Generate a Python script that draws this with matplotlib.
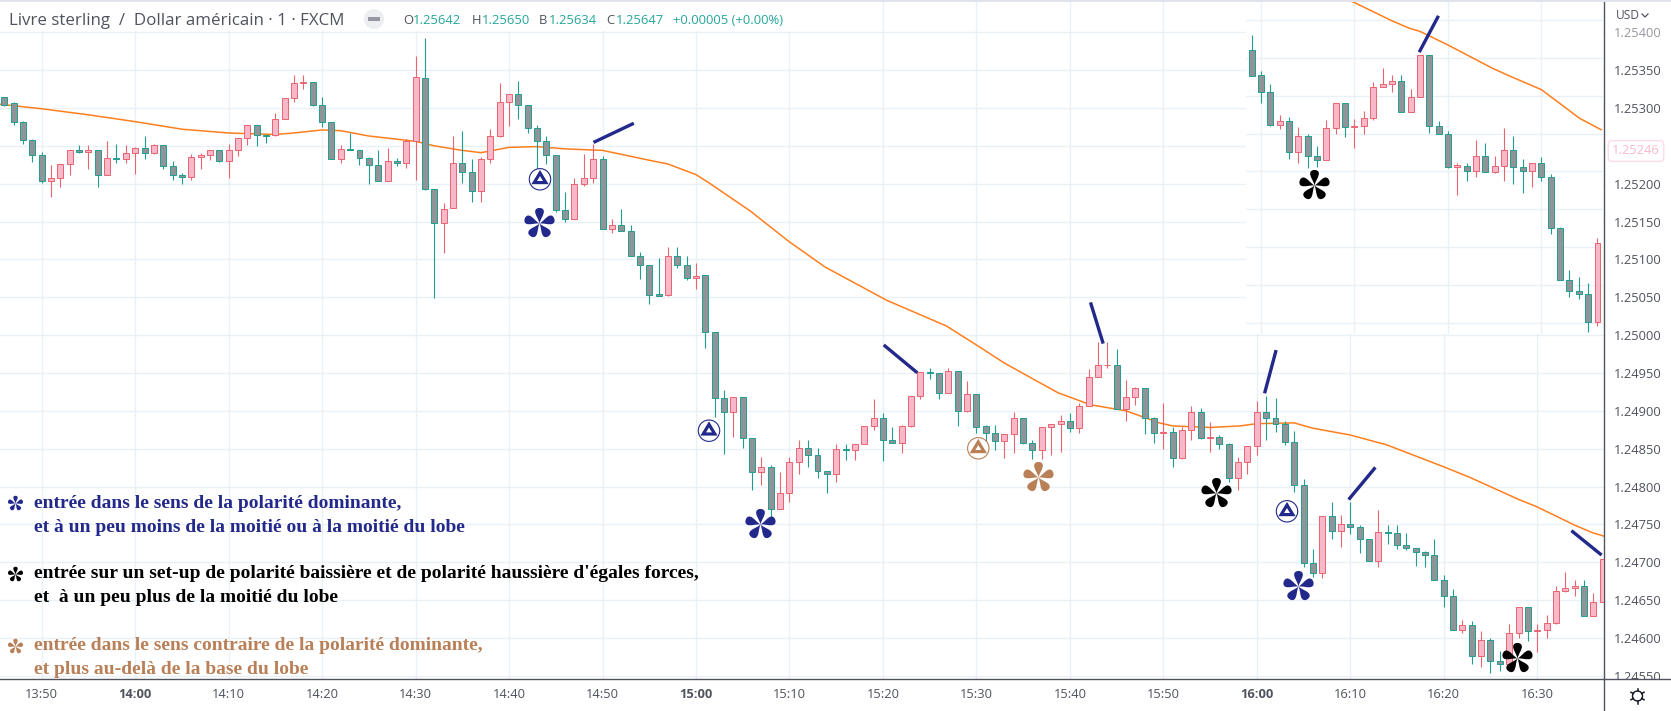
import matplotlib
matplotlib.use("Agg")
import matplotlib.pyplot as plt
import numpy as np
from matplotlib.patches import Circle, Polygon, Rectangle
from matplotlib.path import Path

W, H = 1671, 711

GRID = "#e9f0f6"
AXIS = "#50535e"
UP_FILL = "#f9b8ca"
UP_EDGE = "#e8646f"
DOWN_FILL = "#8f9498"
DOWN_EDGE = "#1f9e8f"
EMA_COLOR = "#ff7f1e"
NAVY = "#23298a"
BROWN = "#b97f57"
TEAL = "#26a69a"

# 1 minute candles, first one at 13:46
FIRST_MINUTE = -4  # minutes after 13:50
OPENS = [
    1.25315, 1.25307, 1.25281, 1.25258, 1.25238, 1.25203, 1.25208, 1.25226, 1.25244, 1.25242,
    1.25245, 1.25212, 1.25234, 1.25233, 1.25241, 1.25247, 1.25240, 1.25251, 1.25224, 1.25212,
    1.25209, 1.25235, 1.25238, 1.25244, 1.25230, 1.25244, 1.25260, 1.25277, 1.25264, 1.25264,
    1.25286, 1.25313, 1.25333, 1.25335, 1.25304, 1.25281, 1.25233, 1.25246, 1.25245, 1.25234,
    1.25225, 1.25204, 1.25230, 1.25227, 1.25256, 1.25340, 1.25193, 1.25148, 1.25168, 1.25227,
    1.25216, 1.25191, 1.25233, 1.25263, 1.25308, 1.25318, 1.25304, 1.25273, 1.25256, 1.25238,
    1.25165, 1.25154, 1.25200, 1.25208, 1.25232, 1.25140, 1.25145, 1.25137, 1.25105, 1.25092,
    1.25054, 1.25053, 1.25104, 1.25092, 1.25076, 1.25079, 1.25004, 1.24917, 1.24899, 1.24918,
    1.24864, 1.24819, 1.24826, 1.24770, 1.24791, 1.24832, 1.24851, 1.24841, 1.24821, 1.24817,
    1.24850, 1.24848, 1.24856, 1.24880, 1.24890, 1.24862, 1.24857, 1.24880, 1.24919, 1.24951,
    1.24950, 1.24924, 1.24952, 1.24900, 1.24922, 1.24880, 1.24871, 1.24860, 1.24870, 1.24891,
    1.24857, 1.24848, 1.24878, 1.24882, 1.24887, 1.24877, 1.24907, 1.24945, 1.24960, 1.24961,
    1.24903, 1.24918, 1.24930, 1.24891, 1.24871, 1.24872, 1.24837, 1.24874, 1.24899, 1.24864,
    1.24865, 1.24856, 1.24811, 1.24832, 1.24853, 1.24898, 1.24890, 1.24882, 1.24859, 1.24802,
    1.24699, 1.24686, 1.24761, 1.24741, 1.24751, 1.24746, 1.24730, 1.24702, 1.24740, 1.24738,
    1.24723, 1.24719, 1.24713, 1.24710, 1.24677, 1.24655, 1.24611, 1.24617, 1.24576, 1.24597,
    1.24570, 1.24565, 1.24607, 1.24641, 1.24609, 1.24610, 1.24620, 1.24662, 1.24666, 1.24669,
    1.24629, 1.24648, 1.24704, 1.24610, 1.24599, 1.24556, 1.24557, 1.24550, 1.24570, 1.24549,
    1.24557, 1.24578, 1.24556, 1.24550, 1.24561, 1.24543, 1.24475, 1.24407, 1.24392, 1.24388,
    1.24351,
]
HIGHS = [
    1.25315, 1.25308, 1.25283, 1.25259, 1.25242, 1.25225, 1.25226, 1.25245, 1.25251, 1.25251,
    1.25245, 1.25257, 1.25253, 1.25251, 1.25248, 1.25263, 1.25252, 1.25251, 1.25230, 1.25214,
    1.25239, 1.25240, 1.25244, 1.25244, 1.25253, 1.25261, 1.25277, 1.25277, 1.25264, 1.25293,
    1.25313, 1.25343, 1.25343, 1.25335, 1.25315, 1.25282, 1.25251, 1.25267, 1.25245, 1.25235,
    1.25244, 1.25247, 1.25234, 1.25259, 1.25369, 1.25392, 1.25193, 1.25175, 1.25263, 1.25269,
    1.25232, 1.25235, 1.25272, 1.25333, 1.25318, 1.25336, 1.25304, 1.25278, 1.25263, 1.25238,
    1.25189, 1.25208, 1.25239, 1.25252, 1.25236, 1.25153, 1.25166, 1.25146, 1.25110, 1.25092,
    1.25102, 1.25116, 1.25116, 1.25105, 1.25095, 1.25079, 1.25004, 1.24928, 1.24918, 1.24918,
    1.24864, 1.24839, 1.24828, 1.24819, 1.24839, 1.24861, 1.24861, 1.24851, 1.24821, 1.24856,
    1.24856, 1.24856, 1.24880, 1.24916, 1.24897, 1.24879, 1.24881, 1.24919, 1.24951, 1.24956,
    1.24950, 1.24957, 1.24952, 1.24939, 1.24922, 1.24881, 1.24881, 1.24870, 1.24898, 1.24891,
    1.24861, 1.24878, 1.24882, 1.24895, 1.24897, 1.24910, 1.24955, 1.24991, 1.24991, 1.24982,
    1.24941, 1.24932, 1.24930, 1.24892, 1.24910, 1.24878, 1.24878, 1.24907, 1.24904, 1.24885,
    1.24868, 1.24857, 1.24839, 1.24853, 1.24913, 1.24920, 1.24917, 1.24887, 1.24873, 1.24810,
    1.24718, 1.24761, 1.24780, 1.24762, 1.24780, 1.24749, 1.24730, 1.24769, 1.24749, 1.24749,
    1.24739, 1.24719, 1.24715, 1.24730, 1.24683, 1.24665, 1.24624, 1.24622, 1.24609, 1.24600,
    1.24583, 1.24618, 1.24641, 1.24641, 1.24619, 1.24630, 1.24668, 1.24687, 1.24677, 1.24677,
    1.24659, 1.24704, 1.24704, 1.24617, 1.24603, 1.24561, 1.24561, 1.24591, 1.24587, 1.24570,
    1.24607, 1.24597, 1.24567, 1.24561, 1.24569, 1.24546, 1.24477, 1.24420, 1.24411, 1.24402,
    1.24462,
]
LOWS = [
    1.25303, 1.25277, 1.25252, 1.25229, 1.25201, 1.25183, 1.25196, 1.25212, 1.25240, 1.25220,
    1.25196, 1.25212, 1.25227, 1.25228, 1.25213, 1.25232, 1.25239, 1.25219, 1.25205, 1.25200,
    1.25205, 1.25219, 1.25231, 1.25229, 1.25208, 1.25236, 1.25251, 1.25250, 1.25254, 1.25263,
    1.25285, 1.25308, 1.25325, 1.25302, 1.25275, 1.25232, 1.25227, 1.25244, 1.25225, 1.25199,
    1.25204, 1.25204, 1.25224, 1.25221, 1.25205, 1.25192, 1.25049, 1.25109, 1.25168, 1.25201,
    1.25176, 1.25176, 1.25227, 1.25262, 1.25276, 1.25285, 1.25267, 1.25214, 1.25226, 1.25162,
    1.25149, 1.25153, 1.25197, 1.25201, 1.25140, 1.25135, 1.25137, 1.25105, 1.25074, 1.25041,
    1.25052, 1.25052, 1.25089, 1.25073, 1.25061, 1.24983, 1.24892, 1.24843, 1.24865, 1.24851,
    1.24795, 1.24802, 1.24759, 1.24770, 1.24780, 1.24817, 1.24826, 1.24811, 1.24791, 1.24806,
    1.24835, 1.24835, 1.24856, 1.24874, 1.24834, 1.24857, 1.24844, 1.24879, 1.24916, 1.24942,
    1.24916, 1.24924, 1.24880, 1.24898, 1.24871, 1.24850, 1.24848, 1.24837, 1.24844, 1.24856,
    1.24836, 1.24836, 1.24842, 1.24846, 1.24872, 1.24871, 1.24906, 1.24945, 1.24957, 1.24902,
    1.24886, 1.24908, 1.24869, 1.24858, 1.24849, 1.24826, 1.24836, 1.24861, 1.24863, 1.24846,
    1.24849, 1.24806, 1.24795, 1.24817, 1.24841, 1.24861, 1.24872, 1.24855, 1.24793, 1.24693,
    1.24680, 1.24679, 1.24730, 1.24720, 1.24737, 1.24712, 1.24702, 1.24693, 1.24724, 1.24717,
    1.24716, 1.24695, 1.24694, 1.24676, 1.24641, 1.24610, 1.24606, 1.24566, 1.24561, 1.24554,
    1.24556, 1.24565, 1.24600, 1.24596, 1.24581, 1.24600, 1.24618, 1.24661, 1.24655, 1.24629,
    1.24629, 1.24648, 1.24601, 1.24599, 1.24555, 1.24519, 1.24537, 1.24542, 1.24549, 1.24548,
    1.24537, 1.24534, 1.24522, 1.24530, 1.24537, 1.24467, 1.24406, 1.24384, 1.24382, 1.24338,
    1.24346,
]
CLOSES = [
    1.25304, 1.25281, 1.25258, 1.25238, 1.25203, 1.25208, 1.25226, 1.25244, 1.25242, 1.25245,
    1.25212, 1.25234, 1.25233, 1.25241, 1.25247, 1.25240, 1.25251, 1.25224, 1.25212, 1.25209,
    1.25235, 1.25238, 1.25244, 1.25230, 1.25244, 1.25260, 1.25277, 1.25264, 1.25263, 1.25286,
    1.25313, 1.25333, 1.25335, 1.25304, 1.25281, 1.25233, 1.25246, 1.25244, 1.25234, 1.25225,
    1.25204, 1.25230, 1.25227, 1.25256, 1.25341, 1.25193, 1.25148, 1.25167, 1.25227, 1.25216,
    1.25191, 1.25233, 1.25263, 1.25308, 1.25318, 1.25304, 1.25273, 1.25256, 1.25238, 1.25165,
    1.25154, 1.25200, 1.25208, 1.25232, 1.25140, 1.25145, 1.25137, 1.25105, 1.25092, 1.25053,
    1.25052, 1.25104, 1.25092, 1.25076, 1.25078, 1.25004, 1.24917, 1.24899, 1.24918, 1.24864,
    1.24819, 1.24826, 1.24770, 1.24791, 1.24832, 1.24851, 1.24841, 1.24821, 1.24817, 1.24850,
    1.24848, 1.24856, 1.24880, 1.24890, 1.24862, 1.24857, 1.24880, 1.24919, 1.24951, 1.24950,
    1.24924, 1.24952, 1.24900, 1.24922, 1.24879, 1.24871, 1.24860, 1.24870, 1.24891, 1.24857,
    1.24848, 1.24878, 1.24882, 1.24887, 1.24877, 1.24907, 1.24945, 1.24960, 1.24961, 1.24903,
    1.24918, 1.24930, 1.24891, 1.24871, 1.24872, 1.24837, 1.24874, 1.24899, 1.24864, 1.24865,
    1.24856, 1.24811, 1.24832, 1.24853, 1.24898, 1.24890, 1.24882, 1.24859, 1.24802, 1.24699,
    1.24686, 1.24761, 1.24741, 1.24751, 1.24746, 1.24730, 1.24702, 1.24740, 1.24738, 1.24723,
    1.24719, 1.24713, 1.24710, 1.24676, 1.24655, 1.24611, 1.24617, 1.24576, 1.24597, 1.24570,
    1.24565, 1.24607, 1.24641, 1.24609, 1.24610, 1.24620, 1.24662, 1.24666, 1.24669, 1.24629,
    1.24648, 1.24704, 1.24610, 1.24599, 1.24556, 1.24558, 1.24550, 1.24570, 1.24549, 1.24557,
    1.24578, 1.24556, 1.24550, 1.24561, 1.24543, 1.24475, 1.24407, 1.24392, 1.24388, 1.24351,
    1.24455,
]

# moving average, read at the places where the line bends
EMA_MINUTES = [
    -4.5, 0, 5, 10, 15, 20, 25, 27, 30, 32, 35, 40, 42, 45, 47, 50, 53, 56, 60, 65, 67, 70,
    71.4, 75.8, 79.9, 83.8, 90.4, 96.8, 98.2, 100, 103, 108.7, 112.2, 116, 119.6, 121, 125,
    128.2, 130, 134, 136, 140, 143.9, 150, 152.8, 158, 160, 164, 165.9, 167, 170, 174.8,
    176.6, 180, 184.1, 186.4,
]
EMA_VALUES = [
    1.25305, 1.25299, 1.25291, 1.25282, 1.25272, 1.25267, 1.25265, 1.25267, 1.25271, 1.25270,
    1.25263, 1.25256, 1.25250, 1.25244, 1.25241, 1.25248, 1.25249, 1.25246, 1.25244, 1.25231,
    1.25226, 1.25212, 1.25201, 1.25164, 1.25124, 1.25090, 1.25046, 1.25012, 1.25001, 1.24987,
    1.24963, 1.24924, 1.24908, 1.24900, 1.24884, 1.24880, 1.24878, 1.24880, 1.24883, 1.24884,
    1.24877, 1.24868, 1.24855, 1.24826, 1.24812, 1.24783, 1.24773, 1.24749, 1.24739, 1.24735,
    1.24717, 1.24686, 1.24676, 1.24658, 1.24620, 1.24605,
]

PRICE_TICKS = [
    1.25400, 1.25350, 1.25300, 1.25250, 1.25200, 1.25150, 1.25100, 1.25050, 1.25000,
    1.24950, 1.24900, 1.24850, 1.24800, 1.24750, 1.24700, 1.24650, 1.24600, 1.24550,
]
PRICE_LABELS = [
    "1.25400", "1.25350", "1.25300", "", "1.25200", "1.25150", "1.25100", "1.25050", "1.25000",
    "1.24950", "1.24900", "1.24850", "1.24800", "1.24750", "1.24700", "1.24650", "1.24600", "1.24550",
]
TIME_TICKS = [0, 10, 20, 30, 40, 50, 60, 70, 80, 90, 100, 110, 120, 130, 140, 150, 160]
TIME_LABELS = [
    "13:50", "14:00", "14:10", "14:20", "14:30", "14:40", "14:50", "15:00", "15:10",
    "15:20", "15:30", "15:40", "15:50", "16:00", "16:10", "16:20", "16:30",
]
PANEL_TIME_TICKS = [150, 160, 170, 180]
PANEL_PRICE_TICKS = [
    1.24750, 1.24700, 1.24650, 1.24600, 1.24550, 1.24500, 1.24450, 1.24400, 1.24350,
]

LEGEND_BLOCKS = [
    (NAVY, 504, "entrée dans le sens de la polarité dominante,"),
    (NAVY, 527, "et à un peu moins de la moitié ou à la moitié du lobe"),
    ("black", 573, "entrée sur un set-up de polarité baissière et de polarité haussière d'égales forces,"),
    ("black", 597, "et  à un peu plus de la moitié du lobe"),
    (BROWN, 646, "entrée dans le sens contraire de la polarité dominante,"),
    (BROWN, 669, "et plus au-delà de la base du lobe"),
]


def px_axes(fig, left, top, right, bottom):
    return fig.add_axes([left / W, 1 - bottom / H, (right - left) / W, (bottom - top) / H])


def petal_marker():
    petal = np.array([
        (0, 0), (-0.06, 0.3), (-0.3, 0.55), (-0.27, 0.78),
        (-0.25, 1.04), (0.25, 1.04), (0.27, 0.78),
        (0.3, 0.55), (0.06, 0.3), (0, 0), (0, 0),
    ])
    codes = [Path.MOVETO] + [Path.CURVE4] * 9 + [Path.CLOSEPOLY]
    verts, all_codes = [], []
    for k in range(5):
        a = np.deg2rad(72 * k)
        rot = np.array([[np.cos(a), -np.sin(a)], [np.sin(a), np.cos(a)]])
        verts.append(petal @ rot.T)
        all_codes += codes
    return Path(np.vstack(verts), all_codes)


def draw_candles(ax, minutes, opens, highs, lows, closes):
    up = closes >= opens
    ax.vlines(
        minutes, lows, highs,
        colors=[UP_EDGE if u else DOWN_EDGE for u in up],
        linewidth=0.8,
        zorder=2,
    )
    ax.bar(
        minutes,
        np.abs(closes - opens),
        bottom=np.minimum(opens, closes),
        width=0.64,
        color=[UP_FILL if u else DOWN_FILL for u in up],
        edgecolor=[UP_EDGE if u else DOWN_EDGE for u in up],
        linewidth=0.7,
        zorder=3,
    )


def circled_triangle(ax, x, y, color):
    ax.add_patch(Circle((x, y), 10.7, facecolor="white", edgecolor=color, linewidth=0.8, zorder=4))
    ax.add_patch(Polygon(
        [(x - 5.8, y + 3.3), (x + 5.8, y + 3.3), (x, y - 6.3)],
        closed=True, fill=False, edgecolor=color, linewidth=2.3, zorder=5,
    ))


def main():
    plt.rcParams["font.family"] = ["Open Sans", "DejaVu Sans"]
    fig = plt.figure(figsize=(W / 100, H / 100), dpi=100)
    fig.patch.set_facecolor("white")

    minutes = np.arange(len(OPENS)) + FIRST_MINUTE
    opens = np.array(OPENS)
    highs = np.array(HIGHS)
    lows = np.array(LOWS)
    closes = np.array(CLOSES)

    # price scale of the main chart: 37.85 px per 0.0005, 1.25400 sits at y=32.3
    per_px = 0.0005 / 37.85
    # time scale: 9.347 px per minute, 13:50 sits at x=41.7
    px_min = 9.347

    ax = px_axes(fig, 0, 0, 1604, 679.3)
    ax.set_xlim(-41.7 / px_min, (1604 - 41.7) / px_min)
    ax.set_ylim(1.254 - (679.3 - 32.3) * per_px, 1.254 + 32.3 * per_px)
    ax.set_axisbelow(True)
    ax.grid(True, color=GRID, linewidth=1.0)
    ax.plot(EMA_MINUTES, EMA_VALUES, color=EMA_COLOR, linewidth=1.1, zorder=1.5)
    draw_candles(ax, minutes, opens, highs, lows, closes)

    ax.yaxis.tick_right()
    ax.set_yticks(PRICE_TICKS)
    ax.set_yticklabels(PRICE_LABELS, fontsize=9.3, color=AXIS)
    ax.set_xticks(TIME_TICKS)
    ax.set_xticklabels(TIME_LABELS, fontsize=9.3, color=AXIS)
    ax.tick_params(axis="both", length=0)
    ax.tick_params(axis="y", pad=7)
    ax.tick_params(axis="x", pad=6)
    for label, tick in zip(ax.get_xticklabels(), TIME_TICKS):
        if (tick + 50) % 60 == 0:
            label.set_fontweight("bold")
    ax.get_yticklabels()[0].set_alpha(0.6)
    ax.spines["top"].set_visible(False)
    ax.spines["left"].set_visible(False)
    ax.spines["right"].set_color(AXIS)
    ax.spines["bottom"].set_color(AXIS)
    ax.spines["right"].set_linewidth(1.0)
    ax.spines["bottom"].set_linewidth(1.0)

    # pasted later view of the same chart, top right
    panel = px_axes(fig, 1246, 0, 1603.3, 334)
    panel.set_facecolor("white")
    panel.set_xlim(150 + (1246 - 1261) / px_min, 150 + (1603.3 - 1261) / px_min)
    panel.set_ylim(1.2475 - (334 - 20) * per_px, 1.2475 + 20 * per_px)
    panel.set_axisbelow(True)
    panel.grid(True, color=GRID, linewidth=1.0)
    panel.set_xticks(PANEL_TIME_TICKS)
    panel.set_yticks(PANEL_PRICE_TICKS)
    panel.tick_params(length=0, labelbottom=False, labelleft=False)
    for side in panel.spines.values():
        side.set_visible(False)
    panel.plot(EMA_MINUTES, EMA_VALUES, color=EMA_COLOR, linewidth=1.1, zorder=1.5)
    draw_candles(panel, minutes, opens, highs, lows, closes)

    # everything drawn on top of the charts, in pixels
    over = fig.add_axes([0, 0, 1, 1], facecolor="none")
    over.set_xlim(0, W)
    over.set_ylim(H, 0)
    over.axis("off")

    over.add_patch(Rectangle((0, 1.5), 800, 29.5, facecolor="white", edgecolor="none", zorder=1))
    over.add_patch(Rectangle((0, 0), W, 1.5, facecolor="#e0e3eb", edgecolor="none", zorder=1))
    over.add_patch(Rectangle((1605, 680), 66, 31, facecolor="white", edgecolor="none", zorder=1))
    over.plot([1604, 1604], [679, H], color=AXIS, linewidth=1.0, zorder=2)
    over.plot([1604, W], [679.3, 679.3], color=AXIS, linewidth=1.0, zorder=2)

    # header
    over.text(9, 21, "Livre sterling  /  Dollar américain · 1 · FXCM", fontsize=12.2,
              color=AXIS, ha="left", va="center", zorder=5)
    over.add_patch(Circle((374, 19), 10, facecolor="#eceef2", edgecolor="none", zorder=4))
    over.add_patch(Rectangle((368, 17.3), 12, 3.4, facecolor="#9598a1", edgecolor="none", zorder=5))
    ohlc = [(403, "O", "1.25642"), (472, "H", "1.25650"), (539, "B", "1.25634"), (606, "C", "1.25647")]
    for x, letter, value in ohlc:
        over.text(x, 21, letter, fontsize=9.4, color=AXIS, ha="left", va="center", zorder=5)
        over.text(x + 9.5, 21, value, fontsize=9.4, color=TEAL, ha="left", va="center", zorder=5)
    over.text(673, 21, "+0.00005 (+0.00%)", fontsize=9.4, color=TEAL, ha="left", va="center", zorder=5)

    # right scale extras
    over.text(1616, 15.5, "USD", fontsize=8.6, color=AXIS, ha="left", va="center", zorder=5)
    over.plot([1642, 1645, 1648], [14, 17, 14], color=AXIS, linewidth=0.9, zorder=5)
    over.text(1636, 151, "1.25246", fontsize=9.3, color="#f9b8ca", ha="center", va="center", zorder=6,
              bbox={"boxstyle": "round,pad=0.3", "facecolor": "white", "edgecolor": "#fcdbe5", "linewidth": 1.0})

    # gear icon
    gx, gy = 1637.5, 696
    over.add_patch(Circle((gx, gy), 5, fill=False, edgecolor="#131722", linewidth=1.0, zorder=5))
    for k in range(6):
        a = np.deg2rad(30 + 60 * k)
        over.plot([gx + 4.8 * np.cos(a), gx + 7.5 * np.cos(a)], [gy + 4.8 * np.sin(a), gy + 7.5 * np.sin(a)],
                  color="#131722", linewidth=1.1, zorder=5)

    # hand drawn annotations of the author
    for x0, y0, x1, y1 in [
        (595, 141.7, 632.3, 124), (885, 346, 916, 371.7), (1091, 304, 1102.7, 342),
        (1265, 391.7, 1275.7, 351.7), (1349.7, 498.3, 1374.3, 468.7),
        (1420, 50.7, 1437.7, 17.3), (1572.7, 531.7, 1600.3, 554),
    ]:
        over.plot([x0, x1], [y0, y1], color=NAVY, linewidth=2.4, zorder=6)

    marker = petal_marker()
    for x, y, color in [
        (539.3, 223.3, NAVY), (760, 524, NAVY), (1298, 586, NAVY), (1037.7, 476.7, BROWN),
        (1216, 493.3, "black"), (1314, 185, "black"), (1516.7, 658, "black"),
    ]:
        over.scatter([x], [y], marker=marker, s=600, color=color, linewidths=0, zorder=6)

    for x, y, color in [(540, 179.3, NAVY), (709, 430.7, NAVY), (1287, 511.3, NAVY), (978.3, 448.3, BROWN)]:
        circled_triangle(over, x, y, color)

    # legend
    for x, y, color in [(15, 503, NAVY), (15, 574, "black"), (15, 646, BROWN)]:
        over.scatter([x], [y], marker=marker, s=150, color=color, linewidths=0, zorder=6)
    for color, y, line in LEGEND_BLOCKS:
        over.text(34, y, line, family="Liberation Serif", fontweight="bold", fontsize=14.0,
                  color=color, ha="left", va="center", zorder=6)

    fig.savefig("out.png", dpi=100)
    plt.close(fig)


if __name__ == "__main__":
    main()
